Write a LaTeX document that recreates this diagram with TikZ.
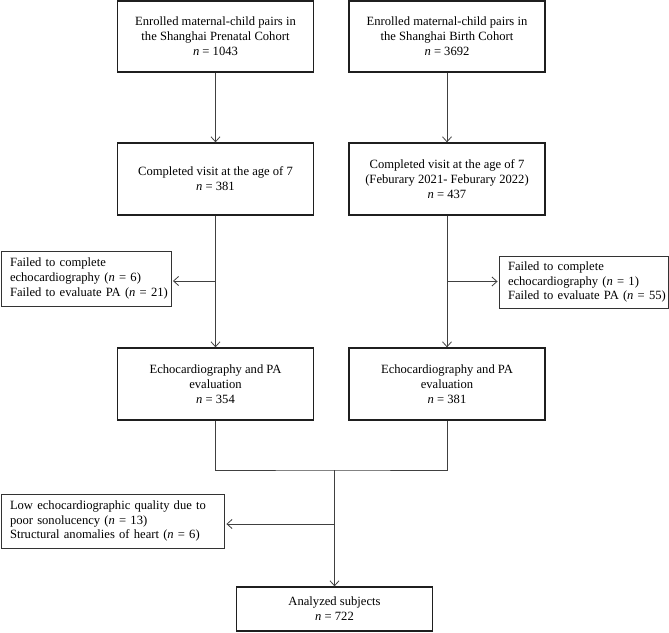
\documentclass[tikz,border=0pt]{standalone}
\usepackage{fontspec}
\setmainfont{Liberation Serif}
\usetikzlibrary{arrows.meta}
\hfuzz=30pt
\hbadness=10000
\begin{document}
\begin{tikzpicture}[x=1pt,y=-1pt,
  every node/.style={font=\fontsize{12.6}{14.9}\selectfont, text=black},
  mainbox/.style={draw=black!88, line width=1.3pt, align=center, inner sep=0pt, minimum width=196pt},
  sidebox/.style={draw=black!80, line width=0.9pt, align=left, inner xsep=9pt, inner ysep=0pt},
  conn/.style={draw=black!75, line width=0.8pt},
  arr/.style={conn, -{Straight Barb[length=5pt,width=9pt,line width=0.8pt]}}
]
\useasboundingbox (0,0) rectangle (669,632);

\node[mainbox, minimum height=71pt] (A) at (215.5,36.5) {Enrolled maternal-child pairs in\\the Shanghai Prenatal Cohort\\\textit{n} = 1043};
\node[mainbox, minimum height=71pt] (B) at (447,36.5) {Enrolled maternal-child pairs in\\the Shanghai Birth Cohort\\\textit{n} = 3692};
\node[mainbox, minimum height=72pt] (C) at (215.5,179) {Completed visit at the age of 7\\\textit{n} = 381};
\node[mainbox, minimum height=72pt] (D) at (447,179) {Completed visit at the age of 7\\(Feburary 2021- Feburary 2022)\\\textit{n} = 437};
\node[mainbox, minimum height=72pt] (E) at (215.5,384) {Echocardiography and PA\\evaluation\\\textit{n} = 354};
\node[mainbox, minimum height=72pt] (F) at (447,384) {Echocardiography and PA\\evaluation\\\textit{n} = 381};
\node[mainbox, minimum height=44pt] (G) at (334.5,609) {Analyzed subjects\\\textit{n} = 722};

\node[sidebox, text width=152pt, minimum height=55pt] (S1) at (86,278.5) {\mbox{Failed to complete}\\\mbox{echocardiography (\textit{n} = 6)}\\\mbox{Failed to evaluate PA (\textit{n} = 21)}};
\node[sidebox, text width=151pt, minimum height=52pt] (S2) at (583.5,282) {\mbox{Failed to complete}\\\mbox{echocardiography (\textit{n} = 1)}\\\mbox{Failed to evaluate PA (\textit{n} = 55)}};
\node[sidebox, text width=205pt, minimum height=54pt] (S3) at (112.5,521) {\mbox{Low echocardiographic quality due to}\\\mbox{poor sonolucency (\textit{n} = 13)}\\\mbox{Structural anomalies of heart (\textit{n} = 6)}};

\coordinate (j1) at (215.5,281);
\coordinate (j2) at (447,281.5);
\coordinate (m) at (334.5,470);
\coordinate (j3) at (334.5,524);

\draw[arr] (A) -- (C);
\draw[arr] (B) -- (D);
\draw[arr] (C) -- (E);
\draw[arr] (D) -- (F);
\draw[arr, shorten >=1.5pt] (j1) -- (j1 -| S1.east);
\draw[arr, shorten >=1pt] (j2) -- (j2 -| S2.west);
\draw[conn] (E.south) |- (m) -| (F.south);
\draw[arr] (m) -- (G);
\draw[arr, shorten >=2pt] (j3) -- (j3 -| S3.east);
\end{tikzpicture}
\end{document}
